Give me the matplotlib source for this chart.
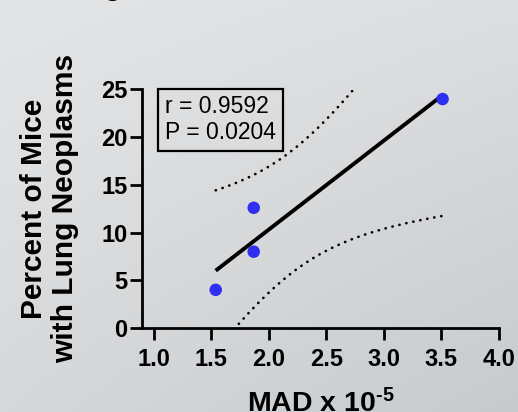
import numpy as np
import matplotlib
matplotlib.use("Agg")
import matplotlib.pyplot as plt

plt.rcParams['font.family'] = ['Liberation Sans', 'DejaVu Sans']
plt.rcParams['mathtext.fontset'] = 'custom'
plt.rcParams['mathtext.rm'] = 'Liberation Sans:bold'
plt.rcParams['mathtext.it'] = 'Liberation Sans:bold'
plt.rcParams['mathtext.bf'] = 'Liberation Sans:bold'

# Data
mad = [1.54, 1.87, 1.87, 3.51]
pct_neoplasms = [4.0, 8.0, 12.6, 24.0]
x_ticks = [1.0, 1.5, 2.0, 2.5, 3.0, 3.5, 4.0]
y_ticks = [0, 5, 10, 15, 20, 25]
stats_text = "r = 0.9592\nP = 0.0204"
t_crit = 4.303  # t(0.975, df=2)

W, H = 518, 412
fig = plt.figure(figsize=(W / 100, H / 100), dpi=100)

# gradient background
bg = fig.add_axes([0, 0, 1, 1], zorder=-10)
gx = np.linspace(0, 1, 200)
gy = np.linspace(0, 1, 160)
GX, GY = np.meshgrid(gx, gy)
tl = np.array([228, 229, 230]); tr = np.array([221, 222, 224])
bl = np.array([214, 216, 218]); br = np.array([199, 203, 206])
img = ((1 - GX)[..., None] * (1 - GY)[..., None] * tl + GX[..., None] * (1 - GY)[..., None] * tr
       + (1 - GX)[..., None] * GY[..., None] * bl + GX[..., None] * GY[..., None] * br) / 255.0
bg.imshow(img, aspect='auto', extent=[0, 1, 0, 1], origin='upper')
bg.axis('off')

ax = fig.add_axes([142 / W, 1 - 328 / H, (499 - 142) / W, (328 - 89.5) / H])
ax.patch.set_alpha(0)

x = np.array(mad); y = np.array(pct_neoplasms)
slope, intercept = np.polyfit(x, y, 1)
n = len(x)
resid = y - (slope * x + intercept)
s = np.sqrt(np.sum(resid ** 2) / (n - 2))
sxx = np.sum((x - x.mean()) ** 2)
xf = np.linspace(x.min(), x.max(), 200)
yf = slope * xf + intercept
se = s * np.sqrt(1 / n + (xf - x.mean()) ** 2 / sxx)

dot = (0, (0.1, 2.6))
ax.plot(xf, yf + t_crit * se, color='black', lw=1.9, ls=dot, dash_capstyle='round', zorder=2)
ax.plot(xf, yf - t_crit * se, color='black', lw=1.9, ls=dot, dash_capstyle='round', zorder=2)
ax.plot(xf, yf, color='black', lw=2.8, solid_capstyle='butt', zorder=3)
ax.scatter(x, y, s=9.0 ** 2, color='#2f2ff0', edgecolors='none', zorder=4)

ax.set_xlim(0.9, 4.0)
ax.set_ylim(0, 25)
ax.set_xticks(x_ticks)
ax.set_xticklabels([f"{v:.1f}" for v in x_ticks])
ax.set_yticks(y_ticks)
ax.set_yticklabels([str(v) for v in y_ticks])
for sp in ['top', 'right']:
    ax.spines[sp].set_visible(False)
for sp in ['left', 'bottom']:
    ax.spines[sp].set_linewidth(2.0)
ax.tick_params(axis='both', length=8.5, width=2.0, labelsize=17, direction='out')
ax.tick_params(axis='x', pad=6)
ax.tick_params(axis='y', pad=2)
for lab in ax.get_xticklabels() + ax.get_yticklabels():
    lab.set_fontweight('bold')

ax.set_xlabel(r"MAD x 10$^{\text{-5}}$", fontsize=20.5, fontweight='bold', labelpad=13)
ax.set_ylabel("Percent of Mice\nwith Lung Neoplasms", fontsize=21.5, fontweight='bold',
              linespacing=1.15, labelpad=16)

ax.text(0.065, 0.975, stats_text, transform=ax.transAxes, fontsize=16.5, va='top', ha='left',
        linespacing=1.15,
        bbox=dict(boxstyle='square,pad=0.3', facecolor='none', edgecolor='black', linewidth=1.6))

fig.text(104 / W, 1 + 5 / H, "g", fontsize=21, fontweight='bold', va='baseline', ha='left')

fig.savefig("out.png", dpi=100)
